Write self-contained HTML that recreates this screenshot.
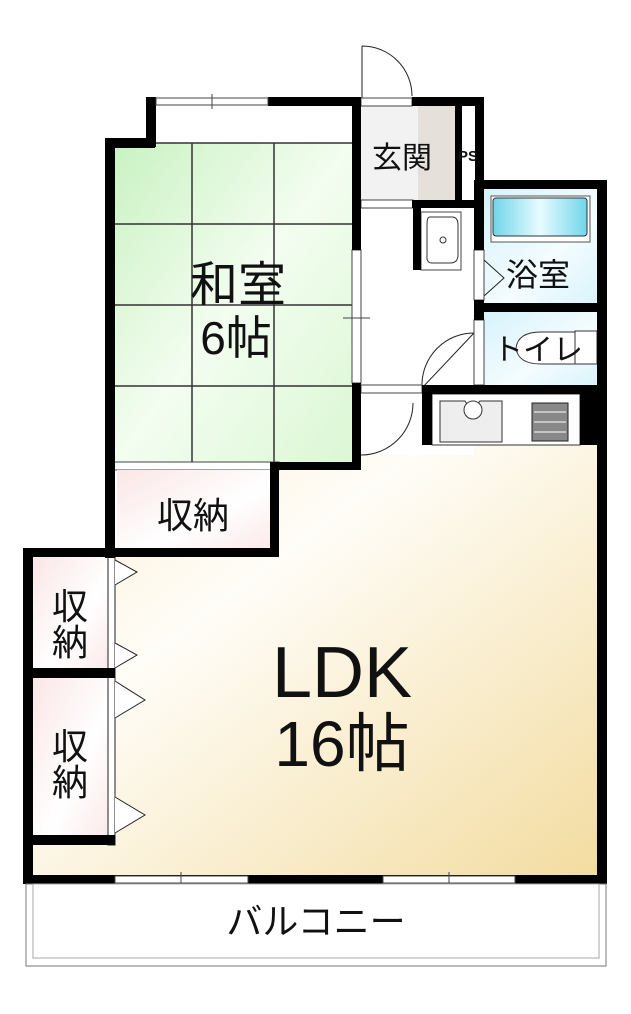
<!DOCTYPE html>
<html><head><meta charset="utf-8"><style>
body{margin:0;background:#fff;}
svg text{font-family:"Liberation Sans","Noto Sans CJK JP",sans-serif;fill:#111;}
</style></head><body>
<svg width="631" height="1009" viewBox="0 0 631 1009" xmlns="http://www.w3.org/2000/svg">
<defs>
<linearGradient id="ldk" x1="0" y1="0" x2="1" y2="1">
<stop offset="0" stop-color="#fbeed0"/><stop offset="0.35" stop-color="#fffdf8"/><stop offset="1" stop-color="#f3dca0"/>
</linearGradient>
<linearGradient id="wa" x1="0" y1="0" x2="1" y2="1">
<stop offset="0" stop-color="#c9f2c2"/><stop offset="0.5" stop-color="#f3fdf0"/><stop offset="1" stop-color="#dbf7d4"/>
</linearGradient>
<linearGradient id="pink" x1="0" y1="0" x2="1" y2="1">
<stop offset="0" stop-color="#fbe6e6"/><stop offset="0.6" stop-color="#fff"/><stop offset="1" stop-color="#fbeaea"/>
</linearGradient>
<linearGradient id="blue" x1="0" y1="0" x2="1" y2="1">
<stop offset="0" stop-color="#d6f3fb"/><stop offset="0.6" stop-color="#f4fcff"/><stop offset="1" stop-color="#d9f4fb"/>
</linearGradient>
<linearGradient id="tub" x1="0" y1="0" x2="1" y2="0">
<stop offset="0" stop-color="#6fd6ea"/><stop offset="0.5" stop-color="#e8fbff"/><stop offset="1" stop-color="#6fd6ea"/>
</linearGradient>
</defs>

<polygon points="33,557 117,557 117,548 279,548 279,470 361,470 361,455 432,455 432,445 597,445 597,875 33,875" fill="url(#ldk)"/>
<rect x="114" y="106" width="238" height="360" fill="#fff"/>
<rect x="114" y="143" width="238" height="322" fill="url(#wa)"/>
<g stroke="#333" stroke-width="1.5">
<line x1="114" y1="143" x2="352" y2="143"/>
<line x1="114" y1="224" x2="352" y2="224"/>
<line x1="114" y1="305" x2="352" y2="305"/>
<line x1="114" y1="386" x2="352" y2="386"/>
<line x1="192" y1="143" x2="192" y2="465"/>
<line x1="274" y1="143" x2="274" y2="465"/>
</g>
<rect x="114" y="462" width="165" height="8" fill="#fff" stroke="#444" stroke-width="1"/>
<rect x="117" y="470" width="153" height="78" fill="url(#pink)"/>
<rect x="33" y="557" width="75" height="111" fill="url(#pink)"/>
<rect x="33" y="678" width="75" height="157" fill="url(#pink)"/>
<rect x="108" y="557" width="7" height="288" fill="#fff" stroke="#222" stroke-width="1"/>
<g fill="#fff" stroke="#222" stroke-width="1">
<polyline points="115,560 137,572 115,585"/>
<polyline points="115,643 137,655 115,668"/>
<polyline points="115,681 145,700 115,718"/>
<polyline points="115,797 145,815 115,833"/>
</g>
<rect x="361" y="106" width="94" height="94" fill="#f2f2f2"/>
<rect x="418" y="106" width="37" height="94" fill="#e6e0da"/>
<rect x="462" y="106" width="13" height="94" fill="#fff"/>
<rect x="361" y="200" width="113" height="255" fill="#fff"/>
<rect x="484" y="189" width="113" height="114" fill="url(#blue)"/>
<rect x="491" y="196" width="99" height="46" fill="#fff" stroke="#555" stroke-width="1"/>
<rect x="493" y="198" width="94" height="38" rx="3" fill="url(#tub)" stroke="#333" stroke-width="1"/>
<rect x="484" y="312" width="113" height="73" fill="url(#blue)"/>
<path d="M575,332 L541,332 Q518,332 516,348 Q518,364 541,364 L575,364 Z" fill="#fff" stroke="#333" stroke-width="1"/>
<rect x="575" y="331" width="22" height="33" fill="#fff" stroke="#333" stroke-width="1"/>
<rect x="421" y="212" width="40" height="58" fill="#fff" stroke="#444" stroke-width="1"/>
<path d="M430,217 L452,217 Q458,217 458,225 L458,255 Q458,263 450,263 L432,263 Q426,263 427,255 L427,224 Q427,217 430,217Z" fill="#fff" stroke="#333"/>
<circle cx="443" cy="240" r="3" fill="none" stroke="#333"/>
<rect x="432" y="394" width="148" height="51" fill="#fff" stroke="#333" stroke-width="1"/>
<path d="M440,401 L465,401 Q471,412 480,401 L502,401 L502,442 L440,442 Z" fill="#eee" stroke="#333"/>
<circle cx="473" cy="410" r="9" fill="#fff" stroke="#333"/>
<rect x="532" y="403" width="36" height="38" fill="#888" stroke="#222"/>
<g stroke="#fff" stroke-width="1"><line x1="534" y1="412" x2="566" y2="412"/><line x1="534" y1="422" x2="566" y2="422"/><line x1="534" y1="432" x2="566" y2="432"/></g>
<g fill="none" stroke="#222" stroke-width="1">
<path d="M362,46 L362,98 M362,46 A50,50 0 0 1 412,96"/>
<path d="M422,388 L474,333 M474,333 A52,52 0 0 0 422,385"/>
<path d="M361,455 A52,52 0 0 0 413,403"/>
<polyline points="484,260 504,278 484,296"/>
</g>
<rect x="361" y="98" width="51" height="8" fill="#fff" stroke="#444" stroke-width="1"/>
<rect x="361" y="200" width="52" height="8" fill="#fff" stroke="#444" stroke-width="1"/>
<rect x="361" y="385" width="61" height="8" fill="#fff" stroke="#444" stroke-width="1"/>
<rect x="352" y="250" width="9" height="133" fill="#fff" stroke="#444" stroke-width="1"/>
<line x1="343" y1="318" x2="370" y2="318" stroke="#444"/>
<rect x="474" y="250" width="10" height="50" fill="#fff" stroke="#444" stroke-width="1"/>
<rect x="474" y="320" width="10" height="65" fill="#fff" stroke="#444" stroke-width="1"/>

<g fill="#000">
<rect x="146" y="97" width="10" height="50"/>
<rect x="105" y="138" width="50" height="10"/>
<rect x="105" y="138" width="10" height="420"/>
<rect x="268" y="97" width="93" height="9"/>
<rect x="352" y="97" width="9" height="153"/>
<rect x="352" y="383" width="9" height="87"/>
<rect x="270" y="462" width="91" height="8"/>
<rect x="270" y="462" width="9" height="95"/>
<rect x="23" y="548" width="256" height="9"/>
<rect x="23" y="548" width="10" height="336"/>
<rect x="23" y="668" width="92" height="10"/>
<rect x="23" y="835" width="92" height="10"/>
<rect x="412" y="97" width="72" height="9"/>
<rect x="455" y="97" width="7" height="103"/>
<rect x="475" y="97" width="9" height="103"/>
<rect x="412" y="200" width="72" height="8"/>
<rect x="413" y="200" width="8" height="70"/>
<rect x="474" y="180" width="10" height="70"/>
<rect x="474" y="180" width="133" height="9"/>
<rect x="597" y="180" width="10" height="704"/>
<rect x="474" y="303" width="133" height="9"/>
<rect x="474" y="300" width="10" height="20"/>
<rect x="422" y="385" width="185" height="9"/>
<rect x="422" y="385" width="10" height="60"/>
<rect x="580" y="385" width="17" height="60"/>
<rect x="23" y="875" width="584" height="9"/>
</g>
<g fill="#fff" stroke="#444" stroke-width="1">
<rect x="156" y="98" width="112" height="7"/>
<rect x="115" y="876" width="133" height="7"/>
<rect x="383" y="876" width="132" height="7"/>
</g>
<g stroke="#444"><line x1="212" y1="94" x2="212" y2="109"/><line x1="181" y1="872" x2="181" y2="887"/><line x1="449" y1="872" x2="449" y2="887"/></g>
<rect x="26" y="884" width="580" height="82" fill="#fff" stroke="#777" stroke-width="1"/>
<rect x="33" y="884" width="566" height="74" fill="none" stroke="#aaa" stroke-width="1"/>

<text x="238" y="301" font-size="48" text-anchor="middle">和室</text>
<text x="236" y="354" font-size="46" text-anchor="middle">6帖</text>
<text x="193" y="528" font-size="36" text-anchor="middle">収納</text>
<text x="70" y="619" font-size="36" text-anchor="middle">収</text>
<text x="70" y="655" font-size="36" text-anchor="middle">納</text>
<text x="70" y="759" font-size="36" text-anchor="middle">収</text>
<text x="70" y="795" font-size="36" text-anchor="middle">納</text>
<text x="342" y="697" font-size="72" text-anchor="middle">LDK</text>
<text x="342" y="766" font-size="64" text-anchor="middle">16帖</text>
<text x="402" y="168" font-size="30" text-anchor="middle">玄関</text>
<text x="468" y="161" font-size="15" text-anchor="middle" font-weight="bold">PS</text>
<text x="538" y="286" font-size="32" text-anchor="middle">浴室</text>
<text x="538" y="360" font-size="30" text-anchor="middle">トイレ</text>
<text x="316" y="934" font-size="36" text-anchor="middle">バルコニー</text>
</svg>
</body></html>
